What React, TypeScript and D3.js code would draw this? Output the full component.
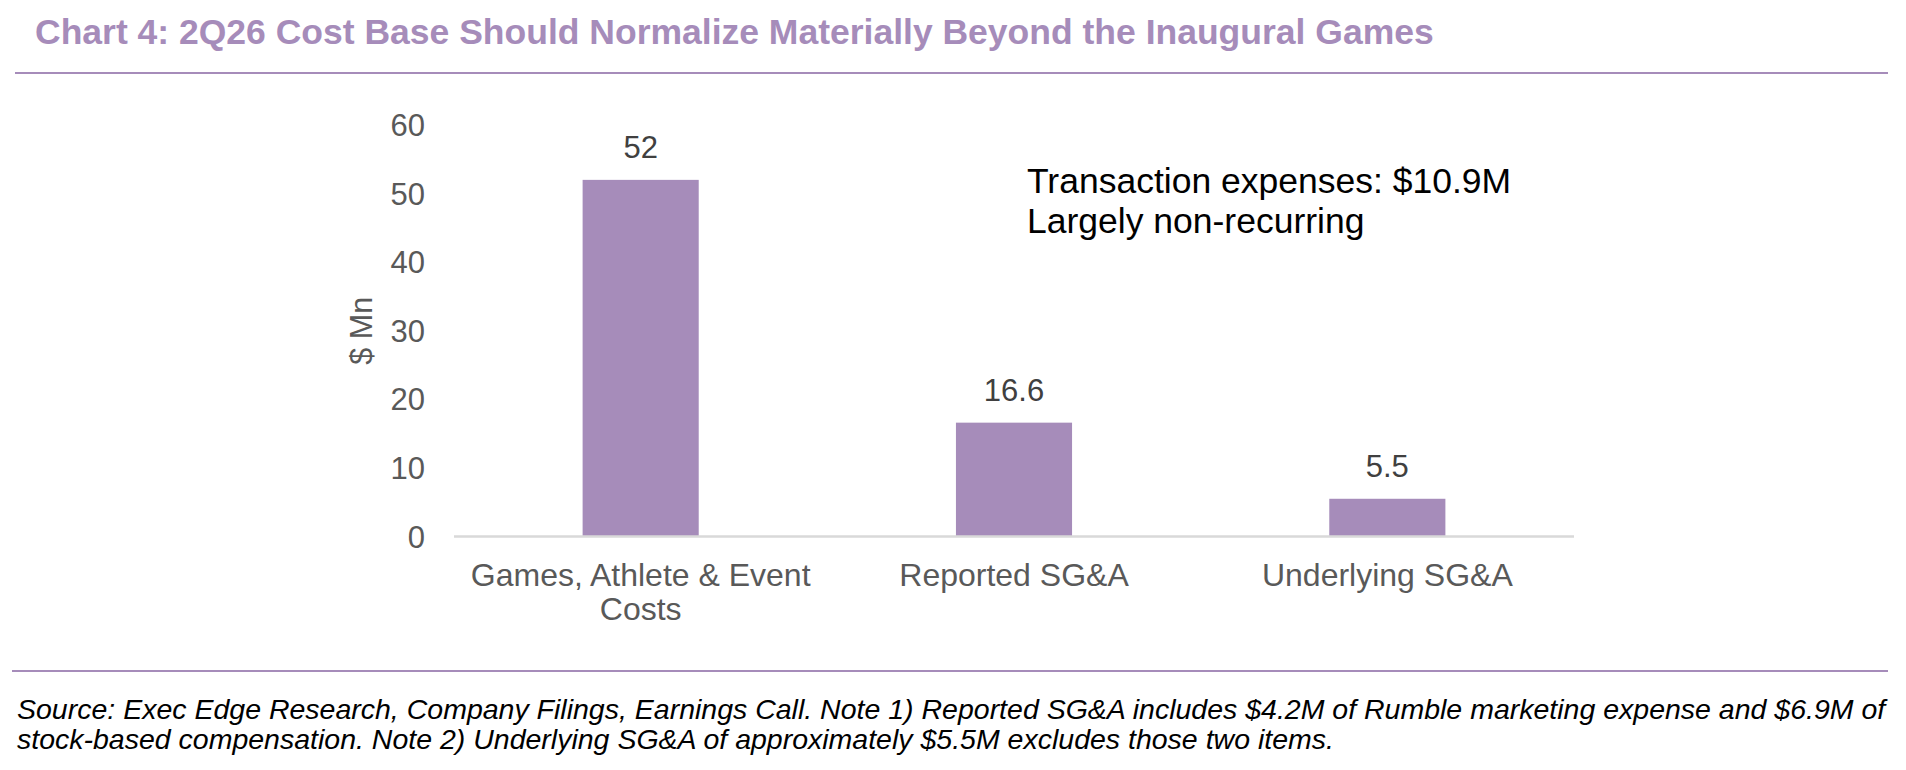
import React from "react";
import * as d3 from "d3";

const categories = ["Games, Athlete & Event Costs", "Reported SG&A", "Underlying SG&A"];
const categoryLines = [["Games, Athlete & Event", "Costs"], ["Reported SG&A"], ["Underlying SG&A"]];
const values = [52, 16.6, 5.5];
const valueLabels = ["52", "16.6", "5.5"];
const yTicks = [0, 10, 20, 30, 40, 50, 60];
const title = "Chart 4: 2Q26 Cost Base Should Normalize Materially Beyond the Inaugural Games";
const yTitle = "$ Mn";
const annotation = ["Transaction expenses: $10.9M", "Largely non-recurring"];
const footer = [
  "Source: Exec Edge Research, Company Filings, Earnings Call. Note 1) Reported SG&A includes $4.2M of Rumble marketing expense and $6.9M of",
  "stock-based compensation. Note 2) Underlying SG&A of approximately $5.5M excludes those two items.",
];

const W = 1906;
const H = 770;
const FONT = "'Liberation Sans', Arial, sans-serif";
const PURPLE = "#A68CBA";

export default function App() {
  const plot = { left: 454, right: 1574, top: 125, bottom: 536.5 };
  const x = d3.scaleBand<string>().domain(categories).range([plot.left, plot.right]).paddingInner(0.689).paddingOuter(0.3445);
  const y = d3.scaleLinear().domain([0, 60]).range([plot.bottom, plot.top]);
  const cx = (c: string) => (x(c) as number) + x.bandwidth() / 2;

  return (
    <svg width={W} height={H} style={{ position: "absolute", left: 0, top: 0, background: "#fff" }} fontFamily={FONT}>
      <text x={35} y={44} fontSize={35.5} fontWeight="bold" fill={PURPLE}>{title}</text>
      <line x1={15} x2={1888} y1={73} y2={73} stroke={PURPLE} strokeWidth={2} />

      {yTicks.map((t) => (
        <text key={t} x={425} y={y(t)} dy="0.36em" textAnchor="end" fontSize={31} fill="#595959">{t}</text>
      ))}
      <text transform={`translate(372,${(plot.top + plot.bottom) / 2}) rotate(-90)`} textAnchor="middle" fontSize={30.5} fill="#595959">{yTitle}</text>

      {categories.map((c, i) => (
        <rect key={c} x={x(c)} y={y(values[i])} width={x.bandwidth()} height={y(0) - y(values[i])} fill={PURPLE} />
      ))}
      <line x1={plot.left} x2={plot.right} y1={y(0)} y2={y(0)} stroke="#D9D9D9" strokeWidth={2.5} />

      {categories.map((c, i) => (
        <text key={c + "v"} x={cx(c)} y={y(values[i]) - 21.5} textAnchor="middle" fontSize={31} fill="#404040">{valueLabels[i]}</text>
      ))}

      {categories.map((c, i) => (
        <text key={c + "c"} x={cx(c)} y={586} textAnchor="middle" fontSize={32} fill="#595959">
          {categoryLines[i].map((l, j) => (
            <tspan key={j} x={cx(c)} dy={j === 0 ? 0 : 34}>{l}</tspan>
          ))}
        </text>
      ))}

      <text x={1027} y={193} fontSize={35.5} fill="#000">
        {annotation.map((l, j) => (
          <tspan key={j} x={1027} dy={j === 0 ? 0 : 40}>{l}</tspan>
        ))}
      </text>

      <line x1={12} x2={1888} y1={671} y2={671} stroke={PURPLE} strokeWidth={2} />
      <text x={17} y={719} fontSize={28.5} fontStyle="italic" fill="#000">
        {footer.map((l, j) => (
          <tspan key={j} x={17} dy={j === 0 ? 0 : 29.5}>{l}</tspan>
        ))}
      </text>
    </svg>
  );
}
